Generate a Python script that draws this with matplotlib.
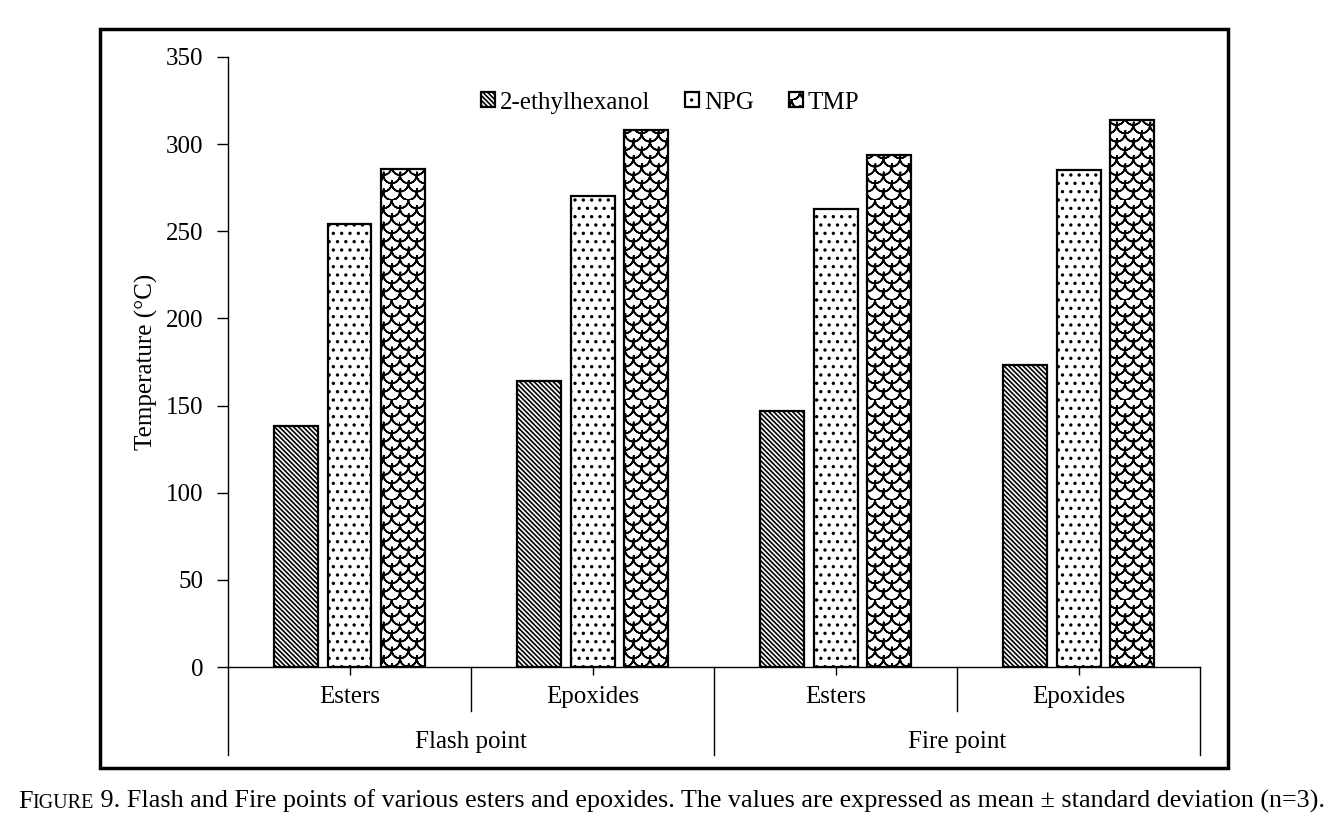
import numpy as np
import matplotlib
matplotlib.use("Agg")
import matplotlib.pyplot as plt
import matplotlib.hatch as mhatch
from matplotlib.path import Path
from matplotlib.patches import Rectangle
import matplotlib.transforms as mtrans

# data
groups = ["Flash point", "Fire point"]
categories = ["Esters", "Epoxides", "Esters", "Epoxides"]
series = ["2-ethylhexanol", "NPG", "TMP"]
ethylhexanol = [138, 164, 147, 173]
npg = [254, 270, 263, 285]
tmp = [286, 308, 294, 314]


# fish-scale hatch (Excel "shingle"-like), used in place of the big-circle 'O' hatch
class Scales(mhatch.HatchPatternBase):
    npts = 11

    def __init__(self, hatch, density):
        self.n = hatch.count('O') * 6
        self.arcs = []
        if self.n:
            p = 1.0 / self.n
            r = p / 2
            t = np.linspace(np.pi, 2 * np.pi, self.npts)
            t = np.concatenate([t, t[::-1]])  # there and back, so nothing gets filled
            for j in range(1, 2 * self.n + 1):
                off = (j % 2) * r
                for i in range(-1, self.n + 1):
                    cx = i * p + off
                    cy = j * r
                    self.arcs.append(np.column_stack([cx + r * np.cos(t), cy + r * np.sin(t)]))
        self.m = 2 * self.npts
        self.num_vertices = len(self.arcs) * self.m

    def set_vertices_and_codes(self, vertices, codes):
        k = 0
        for arc in self.arcs:
            vertices[k:k + self.m] = arc
            codes[k] = Path.MOVETO
            codes[k + 1:k + self.m] = Path.LINETO
            k += self.m


mhatch._hatch_types = [h for h in mhatch._hatch_types if h is not mhatch.LargeCircles] + [Scales]

plt.rcParams['font.family'] = ['Liberation Serif', 'DejaVu Serif']
plt.rcParams['hatch.linewidth'] = 1.2

fig = plt.figure(figsize=(13.42, 8.32), dpi=100)
ax = fig.add_axes([0.1699, 0.1983, 0.7243, 0.7332])

x = np.arange(len(categories))
w = 0.181
step = 0.222
hatches = ['\\' * 7, '..', 'O']
for k, (name, vals) in enumerate(zip(series, [ethylhexanol, npg, tmp])):
    ax.bar(x + (k - 1) * step, vals, w, color='white', edgecolor='black',
           linewidth=1.6, hatch=hatches[k], label=name)

ax.set_xlim(-0.5, 3.5)
ax.set_ylim(0, 350)
ax.set_yticks(range(0, 351, 50))
ax.tick_params(axis='y', direction='out', length=8, width=1, pad=10, labelsize=18)
ax.set_xticks(x)
ax.set_xticklabels([])
ax.tick_params(axis='x', direction='out', length=6, width=1)
for s in ['top', 'right']:
    ax.spines[s].set_visible(False)
ax.spines['left'].set_linewidth(1)
ax.spines['bottom'].set_linewidth(1)

ax.set_ylabel("Temperature (°C)", fontsize=18)
ax.yaxis.set_label_coords(-0.072, 0.5)

# two-level category axis
trans = mtrans.blended_transform_factory(ax.transData, ax.transAxes)
for xi, lab in zip(x, categories):
    ax.text(xi, -0.049, lab, transform=trans, ha='center', va='center', fontsize=18)
for gi, g in enumerate(groups):
    ax.text(2 * gi + 0.5, -0.123, g, transform=trans, ha='center', va='center', fontsize=18)
for b in [0.5, 2.5]:
    ax.plot([b, b], [0, -0.072], transform=trans, color='black', lw=1, clip_on=False)
for b in [-0.5, 1.5, 3.5]:
    ax.plot([b, b], [0, -0.144], transform=trans, color='black', lw=1, clip_on=False)

ax.legend(loc='center', bbox_to_anchor=(0.455, 0.925), ncol=3, frameon=False,
          fontsize=18, handlelength=0.55, handleheight=0.55, handletextpad=0.2,
          columnspacing=1.4)

# outer frame
fig.patches.append(Rectangle((0.0745, 0.0769), 0.8405, 0.888, transform=fig.transFigure,
                             fill=False, edgecolor='black', linewidth=2.5))

# caption with small caps "Figure"
renderer = fig.canvas.get_renderer()
xpos = 0.0134
ybase = 0.0288
for txt, size in [("F", 18.8), ("IGURE", 14.5),
                  (" 9. Flash and Fire points of various esters and epoxides. The values are "
                   "expressed as mean ± standard deviation (n=3).", 18.8)]:
    t = fig.text(xpos, ybase, txt, fontsize=size, va='baseline', ha='left')
    bb = t.get_window_extent(renderer)
    xpos = bb.x1 / fig.bbox.width

fig.savefig("out.png", dpi=100)
